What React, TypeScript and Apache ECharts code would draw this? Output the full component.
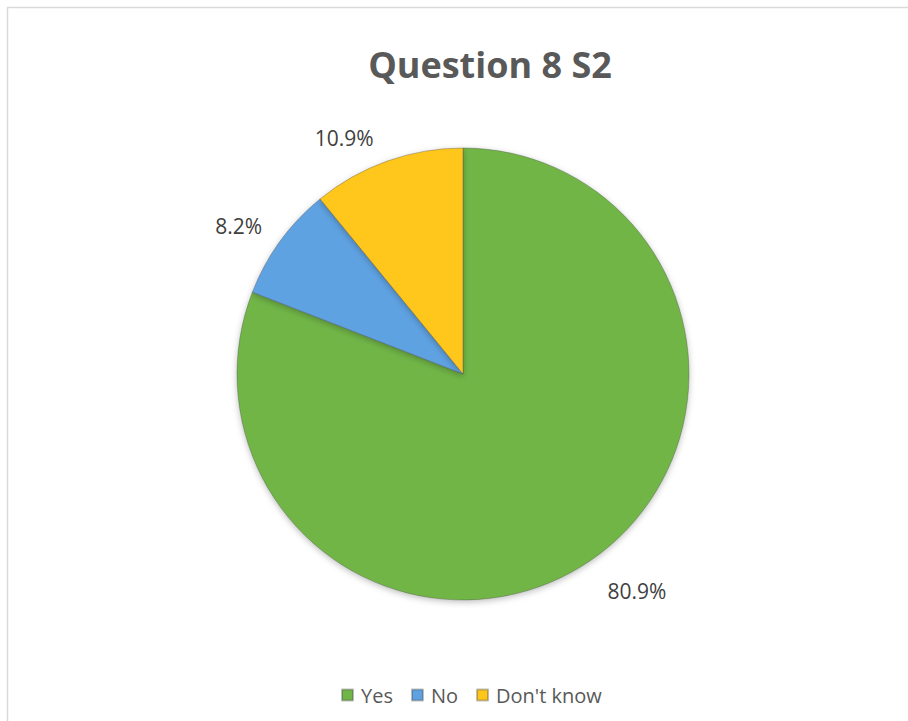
import React, { useEffect, useRef } from "react";
import * as echarts from "echarts";

const titleText = "Question 8 S2";
const categories = ["Yes", "No", "Don't know"];
const percentages = [80.9, 8.2, 10.9];
const sliceColors = ["#71B547", "#5EA2E2", "#FFC61A"];
const labelLineLengths = [37, 26, 25];
const labelLineLengths2 = [-9, -8, 0];

export default function App() {
  const ref = useRef<HTMLDivElement>(null);
  useEffect(() => {
    if (!ref.current) return;
    const chart = echarts.init(ref.current, undefined, { renderer: "svg" });
    const font = "'Open Sans', 'Noto Sans', sans-serif";
    chart.setOption({
      animation: false,
      backgroundColor: "#ffffff",
      graphic: [
        {
          type: "rect",
          shape: { x: 7.5, y: 7.5, width: 960, height: 760 },
          style: { fill: "none", stroke: "#d9d9d9", lineWidth: 1.5 },
          silent: true,
        },
        {
          type: "text",
          x: 490,
          y: 64,
          style: {
            text: titleText,
            fontFamily: font,
            fontWeight: "bold",
            fontSize: 36,
            fill: "#595959",
            align: "center",
            verticalAlign: "middle",
          },
        },
      ],
      legend: {
        data: categories,
        left: 336,
        top: 680,
        icon: "rect",
        itemWidth: 11,
        itemHeight: 11,
        itemGap: 18,
        textStyle: {
          fontFamily: font,
          fontSize: 20,
          color: "#595959",
          padding: [0, 0, 0, 3],
        },
      },
      series: [
        {
          type: "pie",
          center: [463, 374],
          radius: 226,
          startAngle: 90,
          clockwise: true,
          avoidLabelOverlap: false,
          itemStyle: {
            borderColor: "rgba(70,70,70,0.35)",
            borderWidth: 1,
            shadowBlur: 6,
            shadowColor: "rgba(0,0,0,0.25)",
            shadowOffsetY: 2,
          },
          label: {
            show: true,
            position: "outside",
            formatter: (p: any) => p.value.toFixed(1) + "%",
            fontFamily: font,
            fontSize: 21,
            color: "#404040",
            distanceToLabelLine: 5,
          },
          labelLine: { show: false, length: 28, length2: 0 },
          data: categories.map((name, i) => ({
            name,
            value: percentages[i],
            itemStyle: { color: sliceColors[i] },
            labelLine: { show: false, length: labelLineLengths[i], length2: labelLineLengths2[i] },
          })),
        },
      ],
    });
    return () => chart.dispose();
  }, []);
  return (
    <div
      ref={ref}
      style={{ position: "fixed", left: 0, top: 0, width: 908, height: 721 }}
    />
  );
}
